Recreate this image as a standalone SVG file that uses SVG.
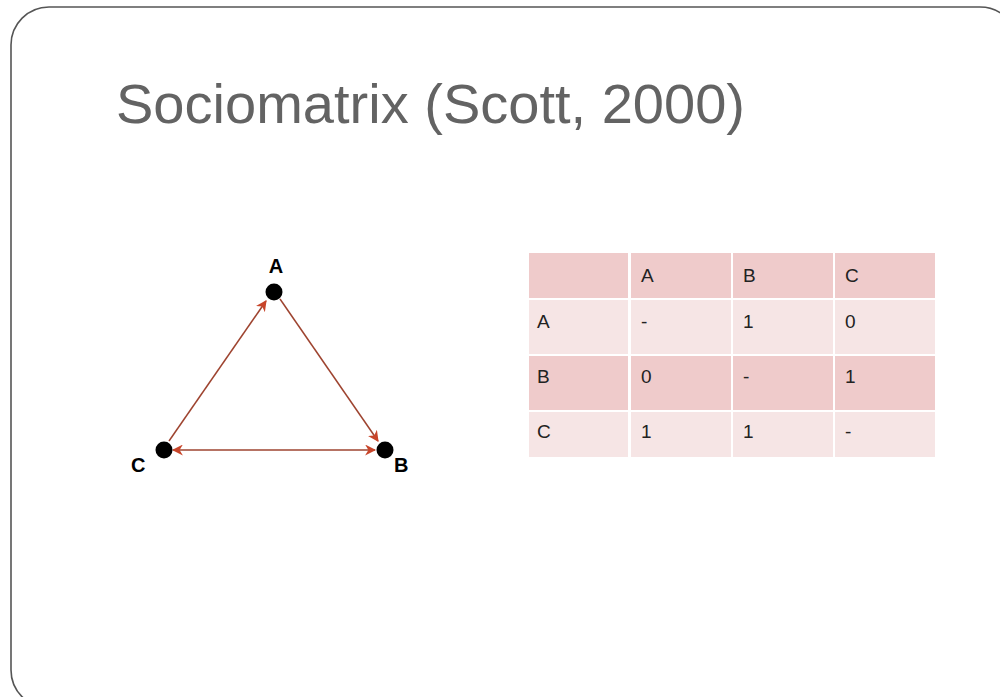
<svg xmlns="http://www.w3.org/2000/svg" width="1000" height="697" viewBox="0 0 1000 697">
<style>
.frame{fill:#fff;stroke:#555;stroke-width:1.6}
.title{font-family:"Liberation Sans",Arial,sans-serif;font-size:55px;fill:#636363}
.nlab{font-family:"Liberation Sans",Arial,sans-serif;font-size:20px;font-weight:bold;fill:#000}
.node{fill:#000}
.edge{stroke:#9e4430;stroke-width:1.5;fill:none}
.hd{fill:#efcbcb}
.lt{fill:#f6e5e5}
.ct{font-family:"Liberation Sans",Arial,sans-serif;font-size:19px;fill:#222}
</style>
<defs>
<marker id="ah" viewBox="0 0 10 10" refX="9" refY="5" markerWidth="11" markerHeight="11" markerUnits="userSpaceOnUse" orient="auto-start-reverse">
<path d="M0,0 L10,5 L0,10 L3,5 Z" fill="#c8452a"/>
</marker>
</defs>
<rect width="1000" height="697" fill="#fff"/>
<rect class="frame" x="11" y="7" width="1007" height="701" rx="38" ry="38"/>
<text class="title" x="116" y="123" textLength="629" lengthAdjust="spacingAndGlyphs">Sociomatrix (Scott, 2000)</text>
<g id="connectors">
<line class="edge" x1="169" y1="441" x2="266" y2="301" marker-end="url(#ah)"/>
<line class="edge" x1="280" y1="299" x2="378" y2="441" marker-end="url(#ah)"/>
<line class="edge" x1="173" y1="450" x2="375" y2="450" marker-start="url(#ah)" marker-end="url(#ah)"/>
</g>
<g id="node-A"><circle class="node" cx="274" cy="292" r="8.5"/><text class="nlab" x="276" y="273" text-anchor="middle">A</text></g>
<g id="node-B"><circle class="node" cx="385" cy="450" r="8.5"/><text class="nlab" x="394" y="472">B</text></g>
<g id="node-C"><circle class="node" cx="164" cy="450" r="8.5"/><text class="nlab" x="131" y="472">C</text></g>
<g id="matrix">
<rect class="hd" x="529" y="253" width="99" height="45"/>
<rect class="hd" x="631" y="253" width="100" height="45"/>
<rect class="hd" x="733" y="253" width="100" height="45"/>
<rect class="hd" x="835" y="253" width="100" height="45"/>
<rect class="lt" x="529" y="300" width="99" height="54"/>
<rect class="lt" x="631" y="300" width="100" height="54"/>
<rect class="lt" x="733" y="300" width="100" height="54"/>
<rect class="lt" x="835" y="300" width="100" height="54"/>
<rect class="hd" x="529" y="356" width="99" height="54"/>
<rect class="hd" x="631" y="356" width="100" height="54"/>
<rect class="hd" x="733" y="356" width="100" height="54"/>
<rect class="hd" x="835" y="356" width="100" height="54"/>
<rect class="lt" x="529" y="412" width="99" height="45"/>
<rect class="lt" x="631" y="412" width="100" height="45"/>
<rect class="lt" x="733" y="412" width="100" height="45"/>
<rect class="lt" x="835" y="412" width="100" height="45"/>
<text class="ct" x="641" y="282">A</text>
<text class="ct" x="743" y="282">B</text>
<text class="ct" x="845" y="282">C</text>
<text class="ct" x="537" y="328">A</text>
<text class="ct" x="641" y="328">-</text>
<text class="ct" x="743" y="328">1</text>
<text class="ct" x="845" y="328">0</text>
<text class="ct" x="537" y="383">B</text>
<text class="ct" x="641" y="383">0</text>
<text class="ct" x="743" y="383">-</text>
<text class="ct" x="845" y="383">1</text>
<text class="ct" x="537" y="438">C</text>
<text class="ct" x="641" y="438">1</text>
<text class="ct" x="743" y="438">1</text>
<text class="ct" x="845" y="438">-</text>
</g>
</svg>
